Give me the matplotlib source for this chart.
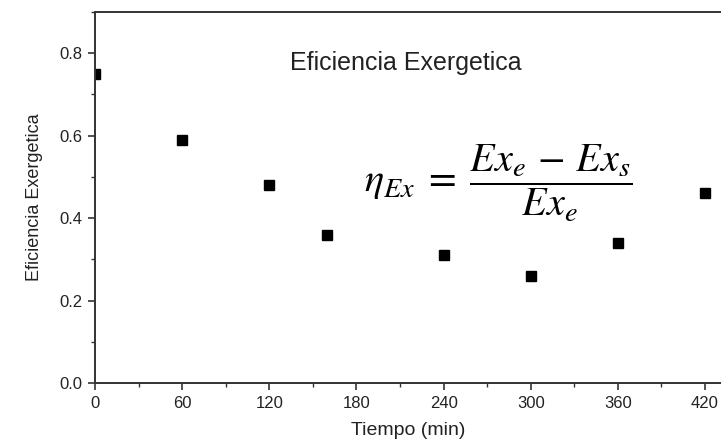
import matplotlib
matplotlib.use("Agg")
import matplotlib.pyplot as plt
from matplotlib.ticker import MultipleLocator

# tiempo (min) y eficiencia exergetica
tiempo = [0, 60, 120, 160, 240, 300, 360, 420]
eficiencia = [0.75, 0.59, 0.48, 0.36, 0.31, 0.26, 0.34, 0.46]
yticks = [0.0, 0.2, 0.4, 0.6, 0.8]
ylabels = ['0.0', '0.2', '0.4', '0.6', '0.8']

plt.rcParams['font.family'] = ['Liberation Sans', 'DejaVu Sans']
plt.rcParams['mathtext.fontset'] = 'stix'

fig = plt.figure(figsize=(7.21, 4.41), dpi=100)
ax = fig.add_axes([95/721, 1 - 383/441, (721 - 95)/721, (383 - 12)/441])

ax.plot(tiempo, eficiencia, 's', color='black', markersize=6.5)

ax.set_xlim(0, 431)
ax.set_ylim(0, 0.9)
ax.xaxis.set_major_locator(MultipleLocator(60))
ax.xaxis.set_minor_locator(MultipleLocator(30))
ax.yaxis.set_minor_locator(MultipleLocator(0.1))
ax.set_yticks(yticks)
ax.set_yticklabels(ylabels)

for s in ['left', 'bottom', 'top']:
    ax.spines[s].set_color('#333333')
    ax.spines[s].set_linewidth(1.4)
ax.spines['right'].set_visible(False)

ax.tick_params(which='major', length=5, width=1.2, color='#333333',
               labelsize=12, labelcolor='#222222', pad=4)
ax.tick_params(which='minor', length=3, width=1.0, color='#333333')

ax.set_xlabel('Tiempo (min)', fontsize=14, color='#222222', labelpad=8)
ax.set_ylabel('Eficiencia Exergetica', fontsize=13, color='#222222',
              labelpad=12)

ax.text(0.497, 0.862, 'Eficiencia Exergetica', transform=ax.transAxes,
        fontsize=18, color='#222222', ha='center', va='center')
ax.text(0.645, 0.537,
        r'$\eta_{Ex}\; = \;\dfrac{Ex_e\, -\, Ex_s}{Ex_e}$',
        transform=ax.transAxes, fontsize=29, color='black',
        ha='center', va='center')

fig.savefig('out.png', dpi=100)
